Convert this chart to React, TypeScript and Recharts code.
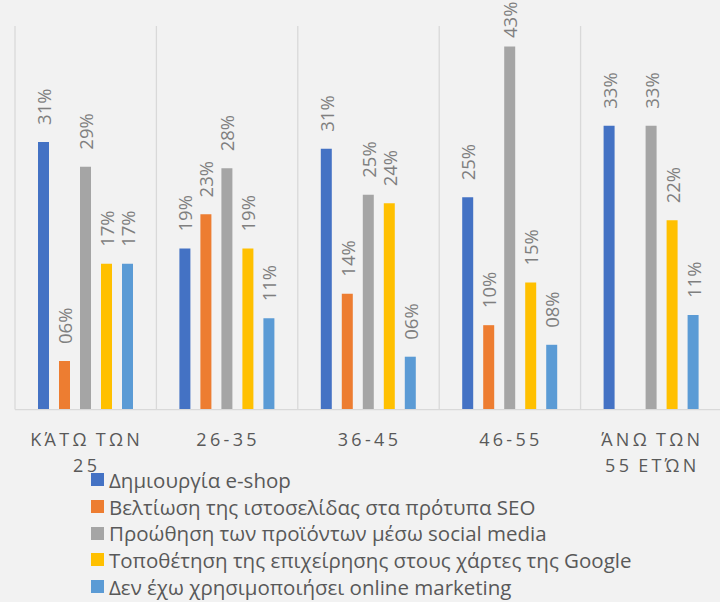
import React from "react";
import { BarChart, Bar, XAxis, YAxis, CartesianGrid, Legend, LabelList } from "recharts";

const categories = ["ΚΆΤΩ ΤΩΝ 25", "26-35", "36-45", "46-55", "ΆΝΩ ΤΩΝ 55 ΕΤΏΝ"];
const eshop = [31.4, 18.9, 30.6, 24.9, 33.3];
const seo = [5.7, 22.9, 13.6, 9.9, null];
const social = [28.5, 28.3, 25.2, 42.6, 33.3];
const maps = [17.1, 18.9, 24.2, 14.9, 22.2];
const noMarketing = [17.1, 10.7, 6.2, 7.6, 11.1];

const seriesNames = [
  "Δημιουργία e-shop",
  "Βελτίωση της ιστοσελίδας στα πρότυπα SEO",
  "Προώθηση των προϊόντων μέσω social media",
  "Τοποθέτηση της επιχείρησης στους χάρτες της Google",
  "Δεν έχω χρησιμοποιήσει online marketing",
];
const seriesKeys = ["eshop", "seo", "social", "maps", "none"];
const seriesValues = [eshop, seo, social, maps, noMarketing];
const colors = ["#4472C4", "#ED7D31", "#A5A5A5", "#FFC000", "#5B9BD5"];

const data = categories.map((c, i) => {
  const row: any = { name: c };
  seriesKeys.forEach((k, j) => {
    row[k] = seriesValues[j][i];
  });
  return row;
});

const FONT = "'Open Sans', 'Noto Sans', sans-serif";

const fmt = (v: number) => String(Math.round(v)).padStart(2, "0") + "%";

const renderLabel = (props: any) => {
  const { value } = props;
  if (value === null || value === undefined) return null;
  const x = Number(props.x);
  const y = Number(props.y);
  const w = Number(props.width);
  const cx = x + w / 2;
  const ay = Math.max(y - 17, 38);
  return (
    <text
      x={cx}
      y={ay}
      transform={`rotate(-90 ${cx} ${ay})`}
      textAnchor="start"
      dominantBaseline="central"
      fill="#7F7F7F"
      fontSize={18.5}
      fontFamily={FONT}
    >
      {fmt(value)}
    </text>
  );
};

const wrapLabel = (s: string, maxChars: number) => {
  const words = s.split(" ");
  const lines: string[] = [];
  let cur = "";
  words.forEach((w) => {
    const next = cur ? cur + " " + w : w;
    if (next.length > maxChars && cur) {
      lines.push(cur);
      cur = w;
    } else {
      cur = next;
    }
  });
  if (cur) lines.push(cur);
  return lines;
};

const CategoryTick = (props: any) => {
  const { x, y, payload } = props;
  const lines = wrapLabel(String(payload.value), 9);
  return (
    <g>
      {lines.map((ln, i) => (
        <text
          key={i}
          x={Number(x) + 1}
          y={Number(y) + 21 + i * 26.5}
          textAnchor="middle"
          dominantBaseline="central"
          fill="#595959"
          fontSize={18}
          letterSpacing={3.3}
          wordSpacing={-2}
          fontFamily={FONT}
        >
          {ln}
        </text>
      ))}
    </g>
  );
};

const renderLegend = () => (
  <div style={{ fontFamily: FONT }}>
    {seriesNames.map((n, i) => (
      <div
        key={n}
        style={{ display: "flex", alignItems: "center", height: 26.7, whiteSpace: "nowrap" }}
      >
        <span
          style={{ display: "inline-block", width: 13, height: 13, background: colors[i], marginRight: 5 }}
        />
        <span style={{ fontSize: 20.5, color: "#595959", lineHeight: "26px" }}>{n}</span>
      </div>
    ))}
  </div>
);

const gridGen = ({ offset }: any) => {
  const pts: number[] = [];
  for (let i = 0; i <= categories.length; i++) {
    pts.push(offset.left + (i * offset.width) / categories.length);
  }
  return pts;
};

export default function App() {
  return (
    <div
      style={{
        position: "absolute",
        left: 0,
        top: 0,
        width: 720,
        height: 602,
        overflow: "hidden",
        background: "#F2F2F2",
      }}
    >
      <BarChart
        width={722}
        height={602}
        data={data}
        margin={{ top: 26, right: 0, bottom: 2, left: 15 }}
        barSize={11}
        barGap={10}
      >
        <CartesianGrid
          horizontal={false}
          vertical={true}
          stroke="#D9D9D9"
          strokeWidth={1.3}
          verticalCoordinatesGenerator={gridGen}
        />
        <XAxis
          dataKey="name"
          height={57}
          axisLine={{ stroke: "#D9D9D9", strokeWidth: 1.3 }}
          tickLine={false}
          tick={<CategoryTick />}
          interval={0}
        />
        <YAxis hide domain={[0, 45]} />
        <Legend
          verticalAlign="bottom"
          align="left"
          layout="horizontal"
          content={renderLegend}
          wrapperStyle={{ left: 91, width: "auto" }}
        />
        {seriesKeys.map((k, i) => (
          <Bar key={k} dataKey={k} name={seriesNames[i]} fill={colors[i]} isAnimationActive={false}>
            <LabelList dataKey={k} content={renderLabel} />
          </Bar>
        ))}
      </BarChart>
    </div>
  );
}
